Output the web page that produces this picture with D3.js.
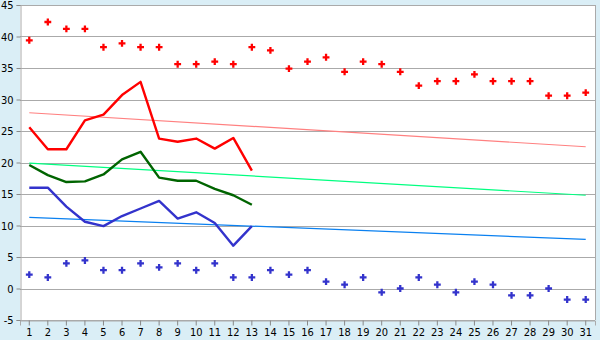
<!doctype html>
<html>
<head>
<script src="https://d3js.org/d3.v7.min.js"></script>
<style>
  body { margin: 0; background: #daeef6; }
  svg { display: block; }
  .tick text { font-family: "DejaVu Sans Condensed", "DejaVu Sans", sans-serif; font-stretch: condensed; font-size: 11px; fill: #000; }
</style>
</head>
<body>
<svg id="chart" width="600" height="340"></svg>
<script>
// categories 1..31
var days = ["1","2","3","4","5","6","7","8","9","10","11","12","13","14","15","16","17","18","19","20","21","22","23","24","25","26","27","28","29","30","31"];

// red diamonds (upper points)
var redPoints = [39.4,42.3,41.2,41.2,38.3,38.9,38.3,38.3,35.6,35.6,36.0,35.6,38.3,37.8,34.9,36.0,36.7,34.4,36.0,35.6,34.4,32.2,32.9,32.9,34.0,32.9,32.9,32.9,30.6,30.6,31.1];
// blue diamonds (lower points)
var bluePoints = [2.2,1.75,4.0,4.45,2.9,2.9,4.0,3.35,4.0,2.9,4.0,1.75,1.75,2.9,2.2,2.9,1.1,0.6,1.75,-0.6,0.0,1.75,0.6,-0.6,1.1,0.6,-1.1,-1.1,0.0,-1.75,-1.75];

// lines for the first 13 days
var redLine = [25.6,22.1,22.1,26.7,27.6,30.7,32.8,23.8,23.3,23.8,22.2,23.9,18.7];
var greenLine = [19.6,18.0,16.9,17.0,18.1,20.5,21.7,17.6,17.1,17.1,15.8,14.8,13.3];
var blueLine = [16.0,16.0,13.0,10.6,9.9,11.5,12.7,13.9,11.1,12.1,10.4,6.8,9.9];

// trend lines: value at day 1 and day 31
var redTrend = [27.9,22.5];
var greenTrend = [19.9,14.8];
var blueTrend = [11.3,7.8];

var yTicks = [-5,0,5,10,15,20,25,30,35,40,45];

var svg = d3.select("#chart");
var mLeft = 20, mRight = 595, mTop = 5, mBottom = 320;

var x = d3.scaleBand().domain(days).range([mLeft, mRight]);
var y = d3.scaleLinear().domain([-5, 45]).range([mBottom, mTop]);
var cx = function(i) { return x(days[i]) + x.bandwidth() / 2; };

svg.append("rect").attr("x", mLeft).attr("y", mTop).attr("width", mRight - mLeft).attr("height", mBottom - mTop).attr("fill", "#fff");

// grid
svg.append("g").selectAll("line").data(yTicks).enter().append("line")
  .attr("x1", mLeft).attr("x2", mRight)
  .attr("y1", function(d){ return Math.round(y(d)) + 0.5; })
  .attr("y2", function(d){ return Math.round(y(d)) + 0.5; })
  .attr("stroke", "#aaa");
svg.append("line").attr("x1", mRight + 0.5).attr("x2", mRight + 0.5).attr("y1", mTop).attr("y2", mBottom).attr("stroke", "#aaa");

// axes
svg.append("g").attr("transform", "translate(" + (mLeft + 0.5) + ",0)")
  .call(d3.axisLeft(y).tickValues(yTicks).tickFormat(function(d){ return String(d); }).tickSize(4).tickPadding(3));
svg.append("g").attr("transform", "translate(0," + (Math.round(y(-5)) + 0.5) + ")")
  .call(d3.axisBottom(x).tickSize(5).tickPadding(3));
svg.selectAll(".domain").attr("stroke", "#aaa");
svg.selectAll(".tick line").attr("stroke", "#888");

// trend lines
function trend(vals, color) {
  svg.append("line")
    .attr("x1", cx(0)).attr("x2", cx(days.length - 1))
    .attr("y1", y(vals[0])).attr("y2", y(vals[1]))
    .attr("stroke", color).attr("stroke-width", 1.2);
}
trend(redTrend, "#ff8080");
trend(greenTrend, "#00ff80");
trend(blueTrend, "#0a80f0");

// main lines
var line = d3.line().x(function(d, i){ return cx(i); }).y(function(d){ return y(d); });
function series(vals, color) {
  svg.append("path").datum(vals).attr("d", line)
    .attr("fill", "none").attr("stroke", color).attr("stroke-width", 2.4).attr("stroke-linejoin", "round");
}
series(redLine, "#ff0000");
series(greenLine, "#006400");
series(blueLine, "#3333cc");

// point markers
var sym = d3.symbol().type(d3.symbolCross).size(26);
function points(vals, color) {
  svg.append("g").selectAll("path").data(vals).enter().append("path")
    .attr("d", sym)
    .attr("transform", function(d, i){ return "translate(" + cx(i) + "," + y(d) + ")"; })
    .attr("fill", color);
}
points(redPoints, "#ff0000");
points(bluePoints, "#3333cc");
</script>
</body>
</html>
